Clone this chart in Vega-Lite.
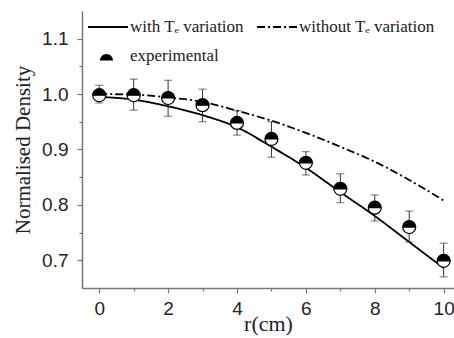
{
  "$schema": "https://vega.github.io/schema/vega-lite/v6.json",
  "width": 372,
  "height": 277,
  "autosize": {"type": "none"},
  "padding": {"left": 82, "top": 11, "right": 0, "bottom": 50},
  "background": "white",
  "config": {"view": {"stroke": null}},
  "datasets": {
    "exp": [
      {"r": 0, "d": 0.998, "lo": 0.984, "hi": 1.016},
      {"r": 1, "d": 0.998, "lo": 0.971, "hi": 1.027},
      {"r": 2, "d": 0.993, "lo": 0.96, "hi": 1.025},
      {"r": 3, "d": 0.98, "lo": 0.95, "hi": 1.009},
      {"r": 4, "d": 0.948, "lo": 0.926, "hi": 0.97},
      {"r": 5, "d": 0.919, "lo": 0.886, "hi": 0.95},
      {"r": 6, "d": 0.876, "lo": 0.854, "hi": 0.896},
      {"r": 7, "d": 0.829, "lo": 0.804, "hi": 0.856},
      {"r": 8, "d": 0.795, "lo": 0.771, "hi": 0.818},
      {"r": 9, "d": 0.76, "lo": 0.733, "hi": 0.789},
      {"r": 10, "d": 0.699, "lo": 0.67, "hi": 0.731}
    ],
    "model": [
      {"r": 0, "d": 0.995, "s": "with Tₑ variation"},
      {"r": 1, "d": 0.99, "s": "with Tₑ variation"},
      {"r": 2, "d": 0.978, "s": "with Tₑ variation"},
      {"r": 3, "d": 0.962, "s": "with Tₑ variation"},
      {"r": 4, "d": 0.94, "s": "with Tₑ variation"},
      {"r": 5, "d": 0.905, "s": "with Tₑ variation"},
      {"r": 6, "d": 0.867, "s": "with Tₑ variation"},
      {"r": 7, "d": 0.823, "s": "with Tₑ variation"},
      {"r": 8, "d": 0.78, "s": "with Tₑ variation"},
      {"r": 9, "d": 0.733, "s": "with Tₑ variation"},
      {"r": 10, "d": 0.686, "s": "with Tₑ variation"},
      {"r": 0, "d": 1.0, "s": "without Tₑ variation"},
      {"r": 1, "d": 0.999, "s": "without Tₑ variation"},
      {"r": 2, "d": 0.994, "s": "without Tₑ variation"},
      {"r": 3, "d": 0.986, "s": "without Tₑ variation"},
      {"r": 4, "d": 0.97, "s": "without Tₑ variation"},
      {"r": 5, "d": 0.952, "s": "without Tₑ variation"},
      {"r": 6, "d": 0.93, "s": "without Tₑ variation"},
      {"r": 7, "d": 0.905, "s": "without Tₑ variation"},
      {"r": 8, "d": 0.878, "s": "without Tₑ variation"},
      {"r": 9, "d": 0.845, "s": "without Tₑ variation"},
      {"r": 10, "d": 0.808, "s": "without Tₑ variation"}
    ]
  },
  "encoding": {
    "x": {
      "field": "r", "type": "quantitative",
      "scale": {"domain": [-0.5, 10.3], "nice": false, "zero": false},
      "axis": {
        "title": "r(cm)",
        "titleFont": "Liberation Serif", "titleFontSize": 22, "titleFontWeight": "normal", "titleColor": "#222",
        "titlePadding": -5,
        "values": [0, 1, 2, 3, 4, 5, 6, 7, 8, 9, 10],
        "labelExpr": "datum.value % 2 == 0 ? datum.label : ''",
        "labelFont": "Liberation Sans", "labelFontSize": 19, "labelColor": "#222", "labelPadding": 6,
        "grid": false,
        "domainColor": "#777", "domainWidth": 1.5,
        "tickColor": "#777", "tickWidth": 1.2,
        "tickSize": {"condition": {"test": "datum.value % 2 == 1", "value": 3}, "value": 5}
      }
    },
    "y": {
      "field": "d", "type": "quantitative",
      "scale": {"domain": [0.65, 1.15], "nice": false, "zero": false},
      "axis": {
        "title": "Normalised Density",
        "titleFont": "Liberation Serif", "titleFontSize": 21, "titleFontWeight": "normal", "titleColor": "#222",
        "titlePadding": 8,
        "values": [0.7, 0.75, 0.8, 0.85, 0.9, 0.95, 1.0, 1.05, 1.1],
        "labelExpr": "round(datum.value * 20) % 2 == 0 ? format(datum.value, '.1f') : ''",
        "labelFont": "Liberation Sans", "labelFontSize": 19, "labelColor": "#222", "labelPadding": 9,
        "grid": false,
        "domainColor": "#777", "domainWidth": 1.5,
        "tickColor": "#777", "tickWidth": 1.2,
        "tickSize": {"condition": {"test": "round(datum.value * 20) % 2 == 1", "value": 3}, "value": 5}
      }
    }
  },
  "layer": [
    {
      "data": {"name": "model"},
      "mark": {"type": "line", "interpolate": "monotone", "color": "black", "strokeWidth": 1.8},
      "encoding": {
        "strokeDash": {
          "field": "s", "type": "nominal",
          "scale": {"domain": ["with Tₑ variation", "without Tₑ variation"], "range": [[1, 0], [8, 3, 2, 3]]},
          "legend": {
            "title": null, "orient": "none", "direction": "horizontal", "columns": 2,
            "legendX": 5, "legendY": -5,
            "symbolType": "stroke", "symbolSize": 1600, "symbolStrokeWidth": 1.8, "symbolStrokeColor": "black",
            "labelFont": "Liberation Serif", "labelFontSize": 17, "labelColor": "#222", "labelOffset": 1,
            "columnPadding": 9, "labelLimit": 300
          }
        }
      }
    },
    {
      "data": {"name": "exp"},
      "mark": {"type": "errorbar", "color": "#333", "thickness": 1, "ticks": {"size": 8, "thickness": 1, "color": "#333"}},
      "encoding": {
        "y": {"field": "lo", "type": "quantitative"},
        "y2": {"field": "hi"}
      }
    },
    {
      "data": {"name": "exp"},
      "mark": {"type": "point", "shape": "M -1 0 A 1 1 0 1 1 1 0 A 1 1 0 1 1 -1 0 Z", "filled": true, "color": "white", "size": 169, "opacity": 1}
    },
    {
      "data": {"name": "exp"},
      "mark": {"type": "point", "filled": true, "fill": "black", "stroke": "black", "strokeWidth": 1.2, "size": 169, "opacity": 1},
      "encoding": {
        "shape": {
          "datum": "experimental",
          "scale": {"domain": ["experimental"], "range": ["M -1 0 A 1 1 0 0 1 1 0 Z M 1 0 A 1 1 0 0 1 -1 0 A 1 1 0 0 0 1 0 Z"]},
          "legend": {
            "title": null, "orient": "none", "legendX": 16, "legendY": 41,
            "symbolSize": 169, "symbolFillColor": "black", "symbolStrokeColor": "black", "symbolStrokeWidth": 1.2,
            "labelFont": "Liberation Serif", "labelFontSize": 17, "labelColor": "#222", "labelOffset": 15,
            "labelBaseline": "alphabetic",
            "encode": {"symbols": {"update": {"stroke": {"value": "black"}, "strokeWidth": {"value": 1.2}, "fill": {"value": "black"}, "opacity": {"value": 1}}}}
          }
        }
      }
    }
  ]
}
